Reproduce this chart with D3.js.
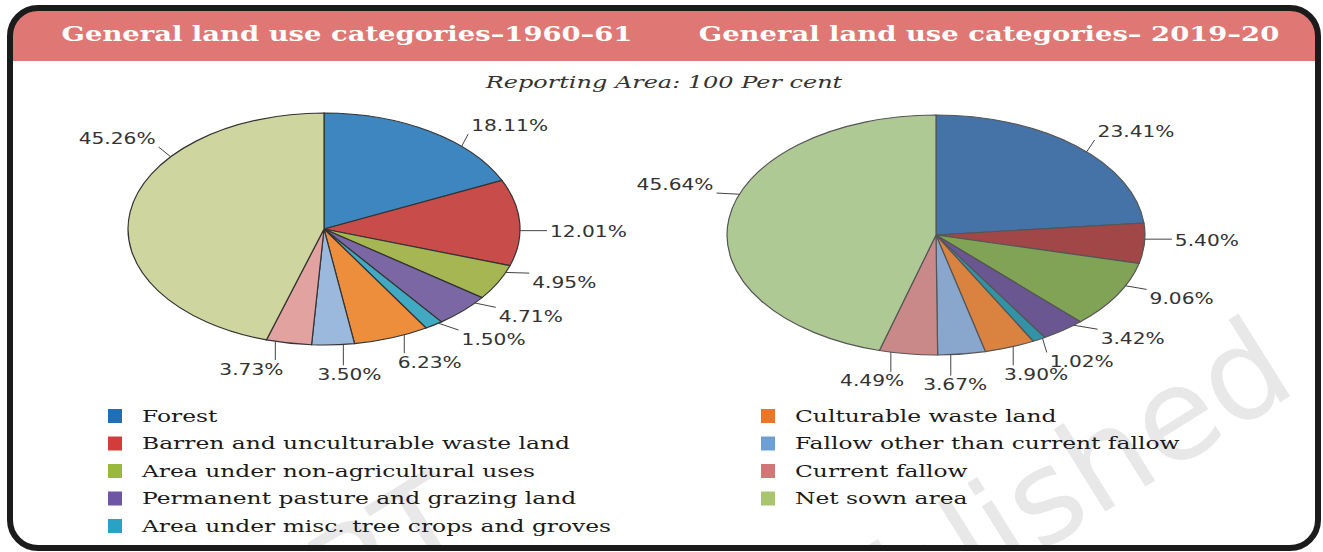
<!DOCTYPE html>
<html><head><meta charset="utf-8">
<script src="https://cdn.jsdelivr.net/npm/d3@7"></script>
<style>html,body{margin:0;padding:0;background:#fff;} svg{display:block;}</style>
</head><body>
<svg id="chart" width="1323" height="552"></svg>
<script>
// ---------------- DATA ----------------
const categories = [
  "Forest",
  "Barren and unculturable waste land",
  "Area under non-agricultural uses",
  "Permanent pasture and grazing land",
  "Area under misc. tree crops and groves",
  "Culturable waste land",
  "Fallow other than current fallow",
  "Current fallow",
  "Net sown area"
];
const values1960 = [18.11, 12.01, 4.95, 4.71, 1.50, 6.23, 3.50, 3.73, 45.26];
const values2019 = [23.41, 5.40, 9.06, 3.42, 1.02, 3.90, 3.67, 4.49, 45.64];
const chartTitles = ["General land use categories\u20131960\u201361", "General land use categories\u2013 2019\u201320"];
const subtitle = "Reporting Area: 100 Per cent";
const watermarkLines = ["\u00a9 NCERT", "not to be republished"];

// ---------------- STYLE / LAYOUT ----------------
const fill1960 = ["#3e86bf","#c84c49","#a6b652","#7b67a4","#41a9c2","#ec8e3c","#9bb9dd","#e1a2a0","#cfd59f"];
const fill2019 = ["#4573a7","#a24747","#80a355","#6a5690","#3292a6","#da823f","#89a6cd","#c98988","#aec994"];
const legendFill = ["#1f6fb6","#d33c3a","#98b93b","#6f56a4","#29a3c5","#ec7628","#6ca0d5","#d37676","#a9c46f"];
const W = 1323, H = 552;
const svg = d3.select("#chart");

const frame = {x: 10, y: 8, w: 1308, h: 540, r: 28, headerBottom: 61};

const pies = [
  {values: values1960, fills: fill1960, stroke: "#333", cx: 324, cy: 229, rx: 196, ry: 116,
   labelAngleOffsetDeg: [12, 4, -6, -8, -7, -4, -3, 6, 30]},
  {values: values2019, fills: fill2019, stroke: "#555", cx: 936, cy: 235, rx: 209, ry: 120,
   labelAngleOffsetDeg: [4, -2, -5, -9, -3, -1, 3, 6, 12]}
];

function stretch(sel, f) {
  sel.each(function () {
    const w = this.getComputedTextLength();
    this.setAttribute("textLength", w * f);
    this.setAttribute("lengthAdjust", "spacingAndGlyphs");
  });
}

// ---------------- FRAME ----------------
const defs = svg.append("defs");
defs.append("clipPath").attr("id", "frameClip")
  .append("rect").attr("x", frame.x).attr("y", frame.y).attr("width", frame.w).attr("height", frame.h)
  .attr("rx", frame.r).attr("ry", frame.r);

svg.append("rect").attr("width", W).attr("height", H).attr("fill", "#fff");

const inner = svg.append("g").attr("clip-path", "url(#frameClip)");
inner.append("rect").attr("x", frame.x).attr("y", frame.y).attr("width", frame.w)
  .attr("height", frame.headerBottom - frame.y).attr("fill", "#df7774");

// watermark
const wm = inner.append("g").attr("fill", "#e8e8e8")
  .style("font-family", "'DejaVu Sans', sans-serif").style("font-size", "128px");
wm.append("text").attr("text-anchor", "end")
  .attr("transform", "translate(480,545) rotate(-32)").text(watermarkLines[0]);
wm.append("text").attr("text-anchor", "end")
  .attr("transform", "translate(1300,390) rotate(-32)").text(watermarkLines[1]);

// titles
const titleX = [347, 989];
chartTitles.forEach((t, i) => {
  const tx = inner.append("text").attr("x", titleX[i]).attr("y", 34).attr("dy", "0.35em")
    .attr("text-anchor", "middle").attr("fill", "#fff")
    .style("font-family", "'DejaVu Serif', serif").style("font-weight", "bold").style("font-size", "20px")
    .text(t);
  stretch(tx, 1.37);
});

// subtitle
const sub = svg.append("text").attr("x", 664).attr("y", 82).attr("dy", "0.35em")
  .attr("text-anchor", "middle").attr("fill", "#333")
  .style("font-family", "'DejaVu Serif', serif").style("font-style", "italic").style("font-size", "17px")
  .text(subtitle);
stretch(sub, 1.41);

// ---------------- PIES ----------------
const pieGen = d3.pie().sort(null).value(d => d);
const R = 100;
const arcGen = d3.arc().innerRadius(0).outerRadius(R);
const fmt = d => d3.format(".2f")(d) + "%";

pies.forEach(p => {
  const arcs = pieGen(p.values);
  const g = svg.append("g")
    .attr("transform", `translate(${p.cx},${p.cy}) scale(${p.rx / R},${p.ry / R})`);
  g.selectAll("path").data(arcs).join("path")
    .attr("d", arcGen)
    .attr("fill", (d, i) => p.fills[i])
    .attr("stroke", p.stroke).attr("stroke-width", 1.2)
    .attr("vector-effect", "non-scaling-stroke");

  const lg = svg.append("g");
  const edge = (a, k = 1) => [p.cx + p.rx * k * Math.sin(a), p.cy - p.ry * k * Math.cos(a)];
  arcs.forEach((d, i) => {
    const mid = (d.startAngle + d.endAngle) / 2;
    const th = mid + p.labelAngleOffsetDeg[i] * Math.PI / 180;
    const t = lg.append("text").attr("text-anchor", "middle").attr("dy", "0.35em").attr("fill", "#333")
      .style("font-family", "'DejaVu Sans', Verdana, sans-serif").style("font-size", "16px")
      .text(fmt(d.data));
    const f = 1.26;
    const w = t.node().getComputedTextLength() * f;
    const h = 12;
    stretch(t, f);
    const gx = 30, gy = 24;
    const lx = p.cx + Math.sin(th) * (p.rx + gx + w / 2);
    const ly = p.cy - Math.cos(th) * (p.ry + gy + h / 2);
    t.attr("x", lx).attr("y", ly);
    // leader
    const span = d.endAngle - d.startAngle;
    const phi = Math.max(d.startAngle + 0.2 * span, Math.min(d.endAngle - 0.2 * span, th));
    const s = edge(phi);
    const pad = 3;
    const bx0 = lx - w / 2 - pad, bx1 = lx + w / 2 + pad, by0 = ly - h / 2 - pad, by1 = ly + h / 2 + pad;
    const ex = Math.max(bx0, Math.min(bx1, s[0]));
    const ey = Math.max(by0, Math.min(by1, s[1]));
    if (Math.hypot(ex - s[0], ey - s[1]) > 4) {
      lg.insert("line", "text").attr("x1", s[0]).attr("y1", s[1]).attr("x2", ex).attr("y2", ey)
        .attr("stroke", "#444").attr("stroke-width", 1);
    }
  });
});

// ---------------- LEGEND ----------------
const legendCols = [{x: 108, items: [0, 1, 2, 3, 4]}, {x: 761, items: [5, 6, 7, 8]}];
const legendY0 = 416, legendStep = 27.5, sq = 14;
legendCols.forEach(col => {
  col.items.forEach((idx, r) => {
    const y = legendY0 + r * legendStep;
    svg.append("rect").attr("x", col.x).attr("y", y - sq / 2).attr("width", sq).attr("height", sq)
      .attr("fill", legendFill[idx]);
    const t = svg.append("text").attr("x", col.x + 34).attr("y", y).attr("dy", "0.35em").attr("fill", "#1a1a1a")
      .style("font-family", "'DejaVu Serif', serif").style("font-size", "16px").text(categories[idx]);
    stretch(t, 1.46);
  });
});

// frame border on top
svg.append("rect").attr("x", frame.x).attr("y", frame.y).attr("width", frame.w).attr("height", frame.h)
  .attr("rx", frame.r).attr("ry", frame.r).attr("fill", "none").attr("stroke", "#1b1b1b").attr("stroke-width", 6);
</script>
</body></html>
